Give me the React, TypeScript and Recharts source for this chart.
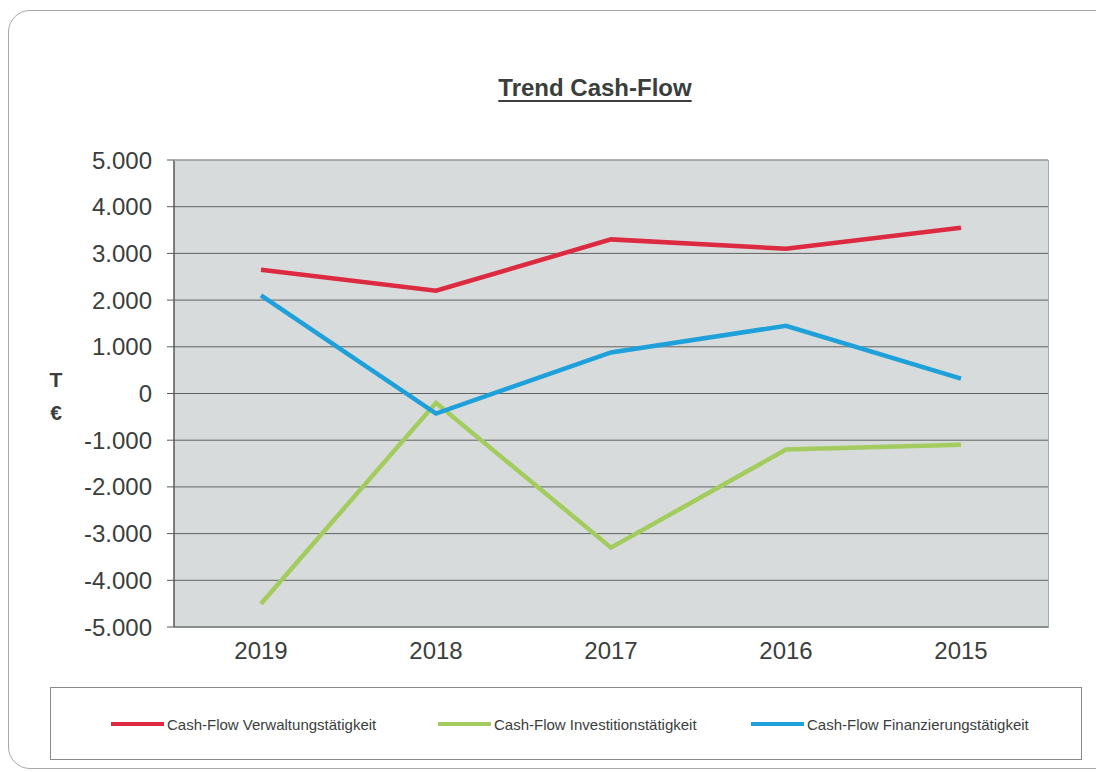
import React from 'react';
import { LineChart, Line, XAxis, YAxis, CartesianGrid } from 'recharts';

const years = ['2019', '2018', '2017', '2016', '2015'];
const verwaltung = [2650, 2200, 3300, 3100, 3550];
const investition = [-4500, -200, -3300, -1200, -1100];
const finanzierung = [2100, -430, 880, 1450, 320];
const yTicks = [-5000, -4000, -3000, -2000, -1000, 0, 1000, 2000, 3000, 4000, 5000];

const seriesNames = [
  'Cash-Flow Verwaltungstätigkeit',
  'Cash-Flow Investitionstätigkeit',
  'Cash-Flow Finanzierungstätigkeit',
];
const seriesKeys = ['verwaltung', 'investition', 'finanzierung'];
const seriesColors = ['#dc2a40', '#a3cc5e', '#1ea0da'];

const data = years.map((y, i) => ({
  year: y,
  verwaltung: verwaltung[i],
  investition: investition[i],
  finanzierung: finanzierung[i],
}));

const fmt = (v: number) => {
  const s = Math.abs(v).toString().replace(/\B(?=(\d{3})+(?!\d))/g, '.');
  return v < 0 ? '-' + s : s;
};

const FONT = '"Liberation Sans", Arial, sans-serif';
const TEXT = '#3a3e3c';

const legendLeft = [60, 387, 700];

export default function App() {
  return (
    <div style={{ position: 'absolute', left: 0, top: 0, width: 1096, height: 772, overflow: 'hidden', background: '#fff', fontFamily: FONT }}>
      <div style={{ position: 'absolute', left: 8, top: 10, width: 1110, height: 759, border: '1px solid #a8a8a8', borderRadius: 22, boxSizing: 'border-box' }} />
      <div style={{ position: 'absolute', left: 395, top: 76, width: 400, textAlign: 'center', fontSize: 24, lineHeight: '24px', fontWeight: 'bold', color: TEXT, textDecoration: 'underline', textDecorationThickness: '2px', textUnderlineOffset: '4px' }}>
        Trend Cash-Flow
      </div>
      <div style={{ position: 'absolute', left: 36, top: 369, width: 40, textAlign: 'center', fontSize: 21, lineHeight: '21px', fontWeight: 'bold', color: TEXT }}>T</div>
      <div style={{ position: 'absolute', left: 36, top: 402, width: 40, textAlign: 'center', fontSize: 21, lineHeight: '21px', fontWeight: 'bold', color: TEXT }}>€</div>
      <div style={{ position: 'absolute', left: 0, top: 0 }}>
        <LineChart width={1096} height={772} data={data} margin={{ top: 160, right: 48, bottom: 115, left: 94 }}>
          <CartesianGrid vertical={false} stroke="#5f6462" fill="#d8dbdb" fillOpacity={1} />
          <XAxis
            dataKey="year"
            height={30}
            padding={{ left: 87, right: 87 }}
            tickLine={false}
            axisLine={{ stroke: '#8a8e8e', strokeWidth: 2 }}
            tickSize={0}
            tickMargin={15}
            tick={{ fontSize: 24, fill: TEXT, fontFamily: FONT }}
            interval={0}
          />
          <YAxis
            width={80}
            domain={[-5000, 5000]}
            ticks={yTicks}
            interval={0}
            tickFormatter={fmt}
            tickSize={7}
            tickMargin={15}
            axisLine={{ stroke: '#555a58', strokeWidth: 1.5 }}
            tickLine={{ stroke: '#555a58' }}
            tick={{ fontSize: 24, fill: TEXT, fontFamily: FONT }}
          />
          {seriesKeys.map((k, i) => (
            <Line
              key={k}
              type="linear"
              dataKey={k}
              name={seriesNames[i]}
              stroke={seriesColors[i]}
              strokeWidth={4.5}
              dot={false}
              activeDot={false}
              isAnimationActive={false}
            />
          ))}
        </LineChart>
      </div>
      <div style={{ position: 'absolute', left: 174, top: 160, width: 875, height: 468, borderTop: '1.5px solid #a2a8ae', borderRight: '1.5px solid #a2a8ae', boxSizing: 'border-box', pointerEvents: 'none' }} />
      <div style={{ position: 'absolute', left: 50, top: 687, width: 1032, height: 73, border: '1px solid #8a8a8a', boxSizing: 'border-box' }}>
        {seriesNames.map((n, i) => (
          <div key={n} style={{ position: 'absolute', left: legendLeft[i], top: 27, display: 'flex', alignItems: 'center', height: 18 }}>
            <div style={{ width: 53, height: 4, background: seriesColors[i], marginRight: 3 }} />
            <span style={{ fontSize: 15, color: TEXT, whiteSpace: 'nowrap' }}>{n}</span>
          </div>
        ))}
      </div>
    </div>
  );
}
